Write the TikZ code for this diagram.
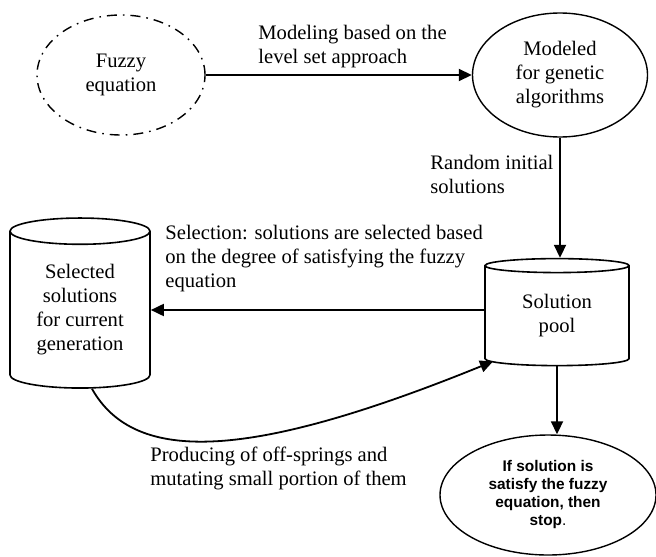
\documentclass[tikz,border=0pt]{standalone}
\usepackage{fontspec}
\setmainfont{Liberation Serif}
\newfontfamily\arialfont{Liberation Sans}
\usetikzlibrary{arrows.meta,positioning,shapes.geometric}

\newcommand{\txtfont}{\fontsize{10.3}{12}\selectfont}
\newcommand{\stopfont}{\arialfont\bfseries\fontsize{7.7}{9}\selectfont}

\tikzset{
  ell/.style={draw,ellipse,line width=0.7pt,inner sep=0pt,align=center,font=\txtfont},
  cyl/.style={draw,cylinder,shape border rotate=90,line width=0.8pt,inner sep=0pt,align=center,font=\txtfont},
  arr/.style={-{Triangle[length=6.5pt,width=6pt]},line width=0.9pt},
  lbl/.style={anchor=west,align=left,inner sep=0pt,font=\txtfont},
}

\begin{document}
\begin{tikzpicture}[x=0.5pt,y=-0.5pt]
  \useasboundingbox (0,0) rectangle (656,556);

  % ===== Nodes =====
  \node[ell,minimum width=84pt,minimum height=60pt,
        dash pattern=on 5pt off 3pt on 0.8pt off 3pt] (fuzzy) at (121,75) {Fuzzy\\equation};
  \node[ell,minimum width=87.5pt,minimum height=62pt] (modeled) at (560,75) {Modeled\\for genetic\\algorithms};
  \node[cyl,aspect=0.2,minimum width=72pt,minimum height=53.5pt] (pool) at (557,316) {Solution\\pool};
  \node[cyl,aspect=0.3,minimum width=70pt,minimum height=85pt] (sel) at (80,310) {Selected\\solutions\\for current\\generation};
  \node[ell,font=\stopfont,minimum width=108pt,minimum height=60pt] (stop) at (548,495)
    {If solution is\\satisfy the fuzzy\\equation, then\\stop{\mdseries .}};

  % --- Labels ---
  \node[lbl] (mlbl) at (258,47) {Modeling based on the\\level set approach};
  \node[lbl] (rlbl) at (430,174) {Random initial\\solutions};
  \node[lbl] (slbl) at (165,259) {Selection: solutions are selected based\\on the degree of satisfying the fuzzy\\equation};
  \node[lbl] (plbl) at (150,468) {Producing of off-springs and\\mutating small portion of them};

  % --- Arrows ---
  \draw[arr] (fuzzy.east) -- (modeled.west);
  \draw[arr] (modeled.south) -- (modeled.south |- pool.top);
  \draw[arr] (sel.east -| pool.west) -- (sel.east);
  \draw[arr] ([xshift=6pt]sel.bottom) .. controls (135,465) and (250,460) .. ([shift={(-32pt,2.5pt)}]pool.bottom);
  \draw[arr] (pool.bottom) -- (pool.bottom |- stop.north);
\end{tikzpicture}
\end{document}
